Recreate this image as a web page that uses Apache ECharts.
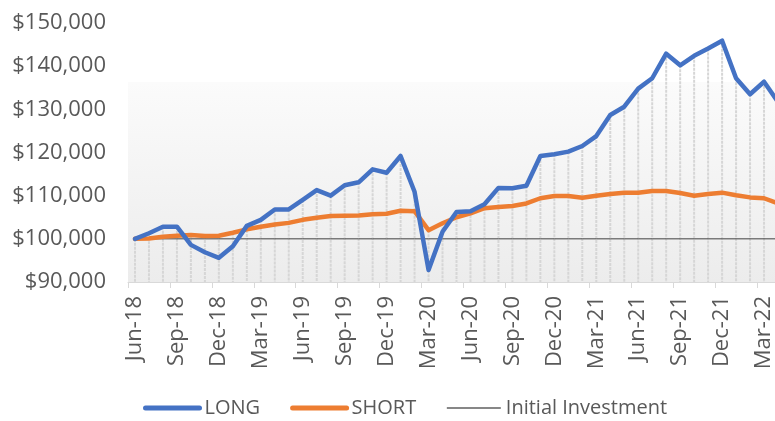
<!DOCTYPE html>
<html>
<head>
<meta charset="utf-8">
<script src="https://cdn.jsdelivr.net/npm/echarts@6/dist/echarts.min.js"></script>
<style>
  html, body { margin: 0; padding: 0; background: #fff; overflow: hidden; }
  /* plot runs a little past the right edge, like the cropped original */
  #chart { width: 785px; height: 421px; }
</style>
</head>
<body>
<div id="chart"></div>
<script>
const months = [
  'Jun-18', 'Jul-18', 'Aug-18', 'Sep-18', 'Oct-18', 'Nov-18', 'Dec-18', 'Jan-19', 'Feb-19', 'Mar-19',
  'Apr-19', 'May-19', 'Jun-19', 'Jul-19', 'Aug-19', 'Sep-19', 'Oct-19', 'Nov-19', 'Dec-19', 'Jan-20',
  'Feb-20', 'Mar-20', 'Apr-20', 'May-20', 'Jun-20', 'Jul-20', 'Aug-20', 'Sep-20', 'Oct-20', 'Nov-20',
  'Dec-20', 'Jan-21', 'Feb-21', 'Mar-21', 'Apr-21', 'May-21', 'Jun-21', 'Jul-21', 'Aug-21', 'Sep-21',
  'Oct-21', 'Nov-21', 'Dec-21', 'Jan-22', 'Feb-22', 'Mar-22', 'Apr-22'
]
const longValues = [
  100000, 101300, 102800, 102800, 98600, 96900, 95600, 98300, 103000, 104400,
  106800, 106800, 109000, 111300, 110000, 112400, 113100, 116100, 115300, 119200,
  110900, 92800, 101650, 106200, 106400, 108000, 111800, 111700, 112300, 119200,
  119600, 120200, 121500, 123800, 128700, 130600, 134800, 137200, 142900, 140200,
  142400, 144100, 145900, 137200, 133500, 136400, 131700
]
const shortValues = [
  100000, 100100, 100500, 100700, 100900, 100650, 100700, 101400, 102200, 102800,
  103300, 103700, 104400, 104900, 105300, 105350, 105400, 105700, 105800, 106500,
  106400, 102000, 103600, 105000, 105900, 107100, 107400, 107600, 108200, 109400,
  109900, 109900, 109500, 110000, 110400, 110700, 110700, 111100, 111100, 110600,
  110000, 110400, 110700, 110100, 109600, 109400, 108200
]
const initialInvestment = months.map(() => 100000)
const yTicks = { min: 90000, max: 150000, step: 10000 }

const textColor = '#595959'
const font = '"Open Sans", sans-serif'

// drop lines reach up to the higher of the two series
const dropTops = longValues.map((v, i) => Math.max(v, shortValues[i]))

const myChart = echarts.init(document.getElementById('chart'))
myChart.setOption({
  animation: false,
  grid: {
    left: 128,
    right: 0,
    top: 23,
    bottom: 139,
    show: true,
    borderWidth: 0,
    // plot area shading, plain white above ~136k
    backgroundColor: new echarts.graphic.LinearGradient(0, 0, 0, 1, [
      { offset: 0, color: '#ffffff' },
      { offset: 0.228, color: '#ffffff' },
      { offset: 0.229, color: '#fbfbfb' },
      { offset: 1, color: '#ececec' }
    ])
  },
  legend: {
    data: [
      { name: 'LONG', lineStyle: { width: 5 } },
      { name: 'SHORT', lineStyle: { width: 5 } },
      { name: 'Initial Investment', lineStyle: { width: 1.2, color: '#111111' } }
    ],
    left: 143,
    top: 398,
    padding: 0,
    itemWidth: 54,
    itemHeight: 4,
    itemGap: 30,
    itemStyle: { opacity: 0 },
    textStyle: { color: textColor, fontSize: 20, fontFamily: font }
  },
  xAxis: {
    type: 'category',
    data: months,
    boundaryGap: true,
    axisLine: { lineStyle: { color: '#d9d9d9', width: 1 } },
    axisTick: { show: true, interval: 2, length: 6, lineStyle: { color: '#d9d9d9' } },
    axisLabel: {
      interval: 2,
      rotate: 90,
      margin: 14,
      color: textColor,
      fontSize: 22,
      fontFamily: font
    }
  },
  yAxis: {
    type: 'value',
    min: yTicks.min,
    max: yTicks.max,
    interval: yTicks.step,
    axisLine: { show: false },
    axisTick: { show: false },
    splitLine: { show: false },
    axisLabel: {
      margin: 22,
      color: textColor,
      fontSize: 22,
      fontFamily: font,
      formatter: v => '$' + v.toLocaleString('en-US')
    }
  },
  series: [
    {
      name: 'drop',
      type: 'custom',
      z: 1,
      silent: true,
      data: dropTops,
      renderItem: (params, api) => {
        const top = api.coord([api.value(0), api.value(1)])
        const base = api.coord([api.value(0), yTicks.min])
        return {
          type: 'line',
          shape: { x1: top[0], y1: top[1], x2: base[0], y2: base[1] },
          style: { stroke: '#d6d6d6', lineWidth: 2, lineDash: [3, 1] }
        }
      },
      encode: { x: 0, y: 1 }
    },
    {
      name: 'Initial Investment',
      type: 'line',
      z: 2,
      data: initialInvestment,
      symbol: 'none',
      color: '#404040',
      lineStyle: { color: '#404040', width: 1 }
    },
    {
      name: 'SHORT',
      type: 'line',
      z: 3,
      data: shortValues,
      symbol: 'none',
      color: '#ed7d31',
      lineStyle: { color: '#ed7d31', width: 4.5, join: 'round', cap: 'round' }
    },
    {
      name: 'LONG',
      type: 'line',
      z: 4,
      data: longValues,
      symbol: 'none',
      color: '#4472c4',
      lineStyle: { color: '#4472c4', width: 4.5, join: 'round', cap: 'round' }
    }
  ]
})
window.addEventListener('resize', () => {
  myChart.resize()
})
</script>
</body>
</html>
